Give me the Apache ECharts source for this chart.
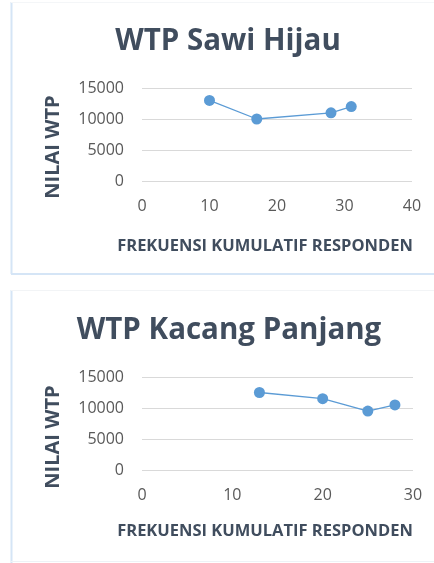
<!DOCTYPE html>
<html><head><meta charset="utf-8">
<script src="https://cdn.jsdelivr.net/npm/echarts@6/dist/echarts.min.js"></script>
<style>html,body{margin:0;padding:0;background:#fff}#c{width:434px;height:563px}</style>
</head><body><div id="c"></div>
<script>
const title1 = "WTP Sawi Hijau";
const title2 = "WTP Kacang Panjang";
const xName = "FREKUENSI KUMULATIF RESPONDEN";
const yName = "NILAI WTP";
const sawiX = [10, 17, 28, 31];
const sawiY = [13000, 10000, 11000, 12000];
const kacangX = [13, 20, 25, 28];
const kacangY = [12500, 11500, 9500, 10500];
const yTicks = [0, 5000, 10000, 15000];
const x1Ticks = [0, 10, 20, 30, 40];
const x2Ticks = [0, 10, 20, 30];

const titleColor = '#404D5E';
const labelColor = '#595959';
const lineColor = '#5B9BD5';
const font = 'Open Sans, Liberation Sans, sans-serif';

const chart = echarts.init(document.getElementById('c'), null, {renderer: 'canvas'});

function xAxis(idx, ticks) {
  return {
    type: 'value', gridIndex: idx,
    min: ticks[0], max: ticks[ticks.length - 1], interval: ticks[1] - ticks[0],
    axisLine: {show: false}, axisTick: {show: false}, splitLine: {show: false},
    axisLabel: {color: labelColor, fontSize: 16, fontFamily: font, margin: 17, formatter: v => String(v)}
  };
}
function yAxis(idx) {
  return {
    type: 'value', gridIndex: idx,
    min: yTicks[0], max: yTicks[yTicks.length - 1], interval: yTicks[1] - yTicks[0],
    axisLine: {show: false}, axisTick: {show: false},
    splitLine: {lineStyle: {color: '#D9D9D9', width: 1}},
    axisLabel: {color: labelColor, fontSize: 16, fontFamily: font, margin: 18, formatter: v => String(v)}
  };
}
function zip(xs, ys) { return xs.map((x, i) => [x, ys[i]]); }

const titleStyle = {fill: titleColor, fontSize: 29.5, fontWeight: 'bold', fontFamily: font};
const nameStyle = {fill: titleColor, fontSize: 16.5, fontWeight: 'bold', fontFamily: font};
const yNameStyle = {fill: titleColor, fontSize: 20, fontWeight: 'bold', fontFamily: font};

chart.setOption({
  animation: false,
  grid: [
    {left: 142, right: 22, top: 88, height: 93},
    {left: 142, right: 21, top: 377, height: 93}
  ],
  xAxis: [xAxis(0, x1Ticks), xAxis(1, x2Ticks)],
  yAxis: [yAxis(0), yAxis(1)],
  series: [
    {type: 'line', xAxisIndex: 0, yAxisIndex: 0, data: zip(sawiX, sawiY),
     symbol: 'circle', symbolSize: 11, itemStyle: {color: lineColor},
     lineStyle: {color: lineColor, width: 1.3}},
    {type: 'line', xAxisIndex: 1, yAxisIndex: 1, data: zip(kacangX, kacangY),
     symbol: 'circle', symbolSize: 11, itemStyle: {color: lineColor},
     lineStyle: {color: lineColor, width: 1.3}}
  ],
  graphic: [
    {type: 'line', shape: {x1: 11.5, y1: 2, x2: 11.5, y2: 274}, style: {stroke: '#D5E5F6', lineWidth: 2}},
    {type: 'line', shape: {x1: 11, y1: 274, x2: 434, y2: 274}, style: {stroke: '#D5E5F6', lineWidth: 2}},
    {type: 'line', shape: {x1: 11, y1: 2.5, x2: 434, y2: 2.5}, style: {stroke: '#F4F6F8', lineWidth: 1}},
    {type: 'line', shape: {x1: 11.5, y1: 290, x2: 11.5, y2: 563}, style: {stroke: '#D5E5F6', lineWidth: 2}},
    {type: 'line', shape: {x1: 11, y1: 290.5, x2: 434, y2: 290.5}, style: {stroke: '#F2F4F6', lineWidth: 1}},
    {type: 'line', shape: {x1: 11, y1: 561.5, x2: 434, y2: 561.5}, style: {stroke: '#EEF2F6', lineWidth: 1}},
    {type: 'text', x: 228, y: 42, style: Object.assign({text: title1, align: 'center', verticalAlign: 'middle'}, titleStyle)},
    {type: 'text', x: 229, y: 331, style: Object.assign({text: title2, align: 'center', verticalAlign: 'middle'}, titleStyle)},
    {type: 'text', x: 265, y: 246, style: Object.assign({text: xName, align: 'center', verticalAlign: 'middle'}, nameStyle)},
    {type: 'text', x: 265, y: 531, style: Object.assign({text: xName, align: 'center', verticalAlign: 'middle'}, nameStyle)},
    {type: 'text', x: 53, y: 147, rotation: Math.PI / 2, style: Object.assign({text: yName, align: 'center', verticalAlign: 'middle'}, yNameStyle)},
    {type: 'text', x: 53, y: 437, rotation: Math.PI / 2, style: Object.assign({text: yName, align: 'center', verticalAlign: 'middle'}, yNameStyle)}
  ]
});
</script></body></html>
